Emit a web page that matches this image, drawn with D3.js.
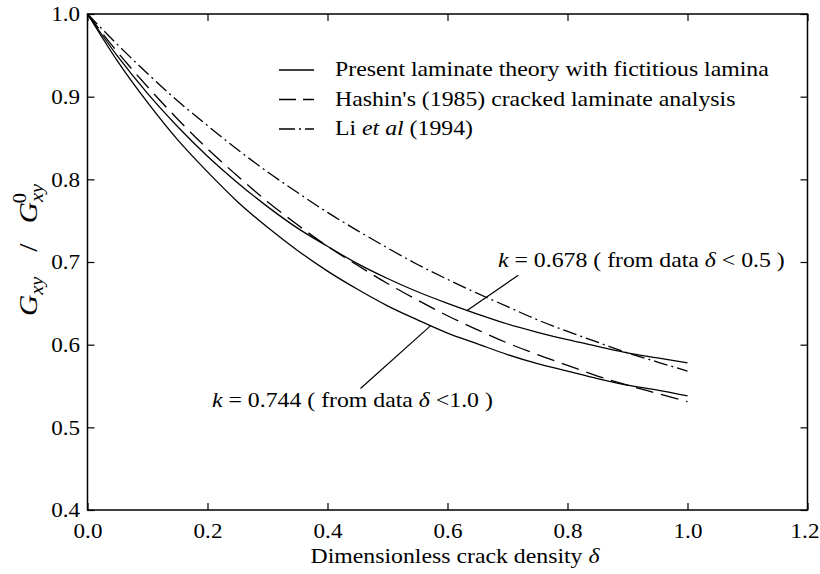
<!DOCTYPE html>
<html>
<head>
<meta charset="utf-8">
<script src="https://cdn.jsdelivr.net/npm/d3@7"></script>
<style>
  body { margin: 0; background: #fff; }
  text { font-family: "Liberation Serif", "Times New Roman", serif; fill: #000; }
</style>
</head>
<body>
<svg id="chart" width="820" height="574"></svg>
<script>
// Dimensionless crack density sampled along each curve
const delta = [0, 0.05, 0.10, 0.15, 0.20, 0.25, 0.30, 0.35, 0.40, 0.45, 0.50,
               0.55, 0.60, 0.65, 0.70, 0.75, 0.80, 0.85, 0.90, 0.95, 1.00];

// Normalised shear modulus G_xy / G_xy^0
const presentK0678 = [1.000, 0.949, 0.904, 0.864, 0.828, 0.796, 0.767, 0.741, 0.719, 0.698, 0.680,
                      0.664, 0.650, 0.637, 0.625, 0.615, 0.606, 0.598, 0.590, 0.584, 0.578];
const presentK0744 = [1.000, 0.943, 0.893, 0.848, 0.809, 0.773, 0.742, 0.714, 0.689, 0.667, 0.647,
                      0.630, 0.614, 0.601, 0.588, 0.577, 0.568, 0.559, 0.551, 0.545, 0.538];
const hashin1985   = [1.000, 0.954, 0.912, 0.873, 0.837, 0.804, 0.773, 0.745, 0.719, 0.696, 0.674,
                      0.654, 0.635, 0.618, 0.602, 0.588, 0.575, 0.562, 0.551, 0.541, 0.531];
const li1994       = [1.000, 0.963, 0.928, 0.895, 0.865, 0.836, 0.809, 0.784, 0.760, 0.738, 0.717,
                      0.697, 0.679, 0.662, 0.646, 0.630, 0.616, 0.603, 0.590, 0.579, 0.568];

const xTicks = [0, 0.2, 0.4, 0.6, 0.8, 1.0, 1.2];
const yTicks = [0.4, 0.5, 0.6, 0.7, 0.8, 0.9, 1.0];

const legendLabels = [
  [{t: "Present laminate theory with fictitious lamina"}],
  [{t: "Hashin's (1985) cracked laminate analysis"}],
  [{t: "Li "}, {t: "et al", i: true}, {t: " (1994)"}]
];

const FS = 21;      // font size of the lettering
const SX = 1.133;   // horizontal stretch of the lettering
const TFS = 21;     // tick label size
const TSX = 1.1;

const svg = d3.select("#chart");
const x = d3.scaleLinear().domain([0, 1.2]).range([87.5, 807.5]);
const y = d3.scaleLinear().domain([0.4, 1.0]).range([510, 14]);

// Axes with inward ticks on all four sides
function styleAxis(g) {
  g.select(".domain").remove();
  g.selectAll(".tick line").attr("stroke", "#000").attr("stroke-width", 1.2);
  g.selectAll("text").attr("font-size", TFS).attr("font-family", null);
}
const fmt = d3.format(".1f");

const gBottom = svg.append("g").attr("transform", `translate(0,${y(0.4)})`)
  .call(d3.axisBottom(x).tickValues(xTicks).tickSizeInner(-7).tickSizeOuter(0).tickPadding(13).tickFormat(fmt))
  .call(styleAxis);
gBottom.selectAll("text").attr("transform", d => `translate(${d === 1.2 ? -3 : 0},0) scale(${TSX},1)`);

const gLeft = svg.append("g").attr("transform", `translate(${x(0)},0)`)
  .call(d3.axisLeft(y).tickValues(yTicks).tickSizeInner(-7).tickSizeOuter(0).tickPadding(7).tickFormat(fmt))
  .call(styleAxis);
gLeft.selectAll("text").attr("x", null).attr("transform", `translate(-7.5,0) scale(${TSX},1)`);

svg.append("g").attr("transform", `translate(0,${y(1.0)})`)
  .call(d3.axisTop(x).tickValues(xTicks).tickSizeInner(-7).tickSizeOuter(0).tickFormat(() => ""))
  .call(styleAxis);
svg.append("g").attr("transform", `translate(${x(1.2)},0)`)
  .call(d3.axisRight(y).tickValues(yTicks).tickSizeInner(-7).tickSizeOuter(0).tickFormat(() => ""))
  .call(styleAxis);

// Plot frame
svg.append("rect")
  .attr("x", x(0)).attr("y", y(1.0))
  .attr("width", x(1.2) - x(0)).attr("height", y(0.4) - y(1.0))
  .attr("fill", "none").attr("stroke", "#000").attr("stroke-width", 1.5);

// Curves
const series = [
  {key: "present0678", values: presentK0678, dash: null},
  {key: "present0744", values: presentK0744, dash: null},
  {key: "hashin", values: hashin1985, dash: "18,8"},
  {key: "li", values: li1994, dash: "14,4,2,4"}
];
const line = d3.line().x(d => x(d[0])).y(d => y(d[1])).curve(d3.curveMonotoneX);
svg.append("g").selectAll("path").data(series).join("path")
  .attr("d", s => line(delta.map((d, i) => [d, s.values[i]])))
  .attr("fill", "none").attr("stroke", "#000").attr("stroke-width", 1.3)
  .attr("stroke-dasharray", s => s.dash);

// Helper for mixed roman / italic runs of text
function richText(parent, px, py, parts, anchor) {
  const t = parent.append("text")
    .attr("transform", `translate(${px},${py}) scale(${SX},1)`)
    .attr("font-size", FS)
    .attr("text-anchor", anchor || "start");
  parts.forEach(p => t.append("tspan").attr("font-style", p.i ? "italic" : null).text(p.t));
  return t;
}

// Legend
const legend = svg.append("g");
const legendDash = [null, "17,7", "16,4,2,4"];
legendLabels.forEach((parts, i) => {
  const ly = 70 + i * 29.5;
  legend.append("line").attr("x1", 279).attr("x2", 314).attr("y1", ly).attr("y2", ly)
    .attr("stroke", "#000").attr("stroke-width", 1.3).attr("stroke-dasharray", legendDash[i]);
  richText(legend, 335, ly + 6, parts);
});

// Curve annotations with leader lines
const notes = svg.append("g");
richText(notes, 498, 267, [
  {t: "k", i: true}, {t: " = 0.678 ( from data "}, {t: "δ", i: true}, {t: " < 0.5 )"}
]);
notes.append("line")
  .attr("x1", x(0.718)).attr("y1", y(0.684))
  .attr("x2", x(0.632)).attr("y2", y(0.641))
  .attr("stroke", "#000").attr("stroke-width", 1.2);

richText(notes, 212, 407, [
  {t: "k", i: true}, {t: " = 0.744 ( from data "}, {t: "δ", i: true}, {t: " <1.0 )"}
]);
notes.append("line")
  .attr("x1", x(0.455)).attr("y1", y(0.547))
  .attr("x2", x(0.572)).attr("y2", y(0.623))
  .attr("stroke", "#000").attr("stroke-width", 1.2);

// Axis titles
const xt = svg.append("text")
  .attr("transform", `translate(455,563) scale(${SX},1)`)
  .attr("font-size", FS).attr("text-anchor", "middle");
xt.append("tspan").text("Dimensionless crack density ");
xt.append("tspan").attr("font-style", "italic").text("δ");

const yt = svg.append("text")
  .attr("transform", `translate(37,250) rotate(-90) scale(${SX},1)`)
  .attr("font-size", 26).attr("text-anchor", "middle");
yt.append("tspan").attr("font-style", "italic").text("G");
yt.append("tspan").attr("font-style", "italic").attr("font-size", 18).attr("dy", 6).text("xy");
yt.append("tspan").attr("dy", -6).attr("dx", 22).text("/");
yt.append("tspan").attr("font-style", "italic").attr("dx", 18).text("G");
yt.append("tspan").attr("font-style", "italic").attr("font-size", 18).attr("dy", 6).text("xy");
yt.append("tspan").attr("font-size", 18).attr("dx", -17).attr("dy", -17).text("0");
</script>
</body>
</html>
